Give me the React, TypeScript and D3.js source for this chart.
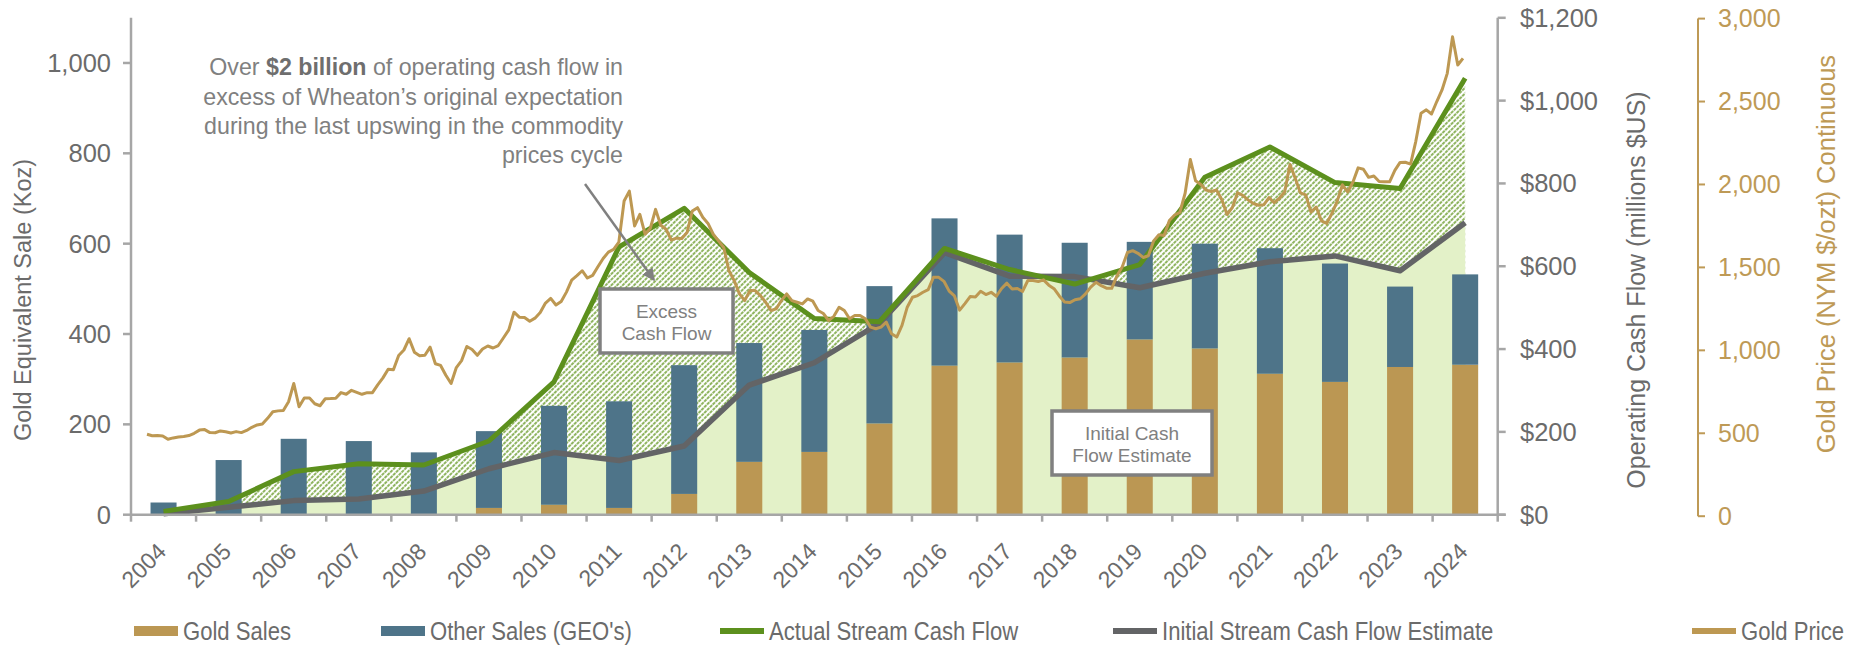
import React from "react";
import * as d3 from "d3";

// categories
const years = [
  "2004", "2005", "2006", "2007", "2008", "2009", "2010", "2011", "2012", "2013", "2014",
  "2015", "2016", "2017", "2018", "2019", "2020", "2021", "2022", "2023", "2024",
];

// Koz, gold equivalent
const goldSales = [0, 0, 0, 0, 0, 15, 22, 15, 46, 117, 139, 202, 330, 337, 348, 388, 368, 312, 294, 327, 332];
const otherSales = [27, 121, 168, 163, 138, 170, 219, 236, 285, 263, 270, 304, 326, 283, 254, 216, 232, 278, 262, 178, 200];

// millions $US
const actualCashFlow = [8, 32, 104, 123, 120, 178, 321, 647, 740, 585, 474, 466, 643, 592, 557, 604, 815, 888, 802, 788, 1054];
const initialEstimate = [2, 18, 34, 38, 57, 111, 150, 131, 166, 313, 367, 462, 633, 576, 575, 548, 583, 611, 625, 589, 705];

// gold price, monthly, Jan 2004 .. Dec 2024
const goldPrice = [
  494, 485, 486, 484, 464, 472, 478, 480, 486, 500, 519, 522,
  504, 503, 514, 509, 502, 510, 504, 517, 536, 550, 556, 590,
  630, 635, 637, 690, 800, 660, 713, 712, 678, 666, 708, 709,
  711, 745, 735, 759, 747, 735, 745, 745, 792, 834, 886, 883,
  969, 1002, 1070, 989, 968, 970, 1019, 919, 909, 850, 800, 896,
  938, 1023, 1005, 970, 1008, 1026, 1014, 1029, 1076, 1123, 1230, 1200,
  1198, 1175, 1194, 1228, 1285, 1313, 1273, 1295, 1351, 1423, 1450, 1480,
  1436, 1452, 1504, 1554, 1592, 1609, 1653, 1900, 1960, 1750, 1820, 1700,
  1736, 1850, 1754, 1730, 1665, 1676, 1674, 1710, 1840, 1860, 1802, 1765,
  1700, 1660, 1620, 1480, 1420, 1340, 1300, 1360, 1360, 1330, 1290, 1240,
  1250, 1300, 1340, 1300, 1290, 1280, 1310, 1296, 1240, 1222, 1180, 1205,
  1260, 1240, 1190, 1210, 1210, 1190, 1140, 1130, 1140, 1170, 1100, 1080,
  1150, 1260, 1320, 1330, 1350, 1366, 1440, 1440, 1416, 1357, 1328, 1242,
  1282, 1324, 1321, 1356, 1336, 1350, 1326, 1373, 1405, 1370, 1373, 1355,
  1421, 1421, 1415, 1425, 1393, 1372, 1328, 1292, 1288, 1305, 1311, 1340,
  1381, 1410, 1390, 1375, 1374, 1449, 1503, 1590, 1601, 1585, 1560, 1570,
  1660, 1697, 1692, 1783, 1816, 1832, 1947, 2150, 2022, 2000, 1966, 1958,
  1967, 1908, 1819, 1860, 1950, 1934, 1907, 1885, 1875, 1877, 1921, 1890,
  1917, 1956, 2120, 2037, 1949, 1937, 1833, 1864, 1781, 1765, 1826, 1898,
  1998, 1955, 2013, 2100, 2092, 2043, 2051, 2018, 2016, 2016, 2085, 2133,
  2134, 2123, 2260, 2430, 2450, 2425, 2500, 2570, 2670, 2890, 2720, 2760,
];

// tick labels
const salesTicks = [0, 200, 400, 600, 800, 1000];
const cashTicks = [0, 200, 400, 600, 800, 1000, 1200];
const priceTicks = [0, 500, 1000, 1500, 2000, 2500, 3000];

const W = 1849;
const H = 646;
const plot = { left: 131, right: 1497.7, top: 17.8, bottom: 514.7 };

const C = {
  gold: "#BB9753",
  blue: "#4E7489",
  green: "#5C901D",
  grey: "#636466",
  fill: "#E3F1C8",
  price: "#BD9852",
  axis: "#A6A6A6",
  text: "#6B6B6B",
  note: "#808080",
  goldText: "#BE9A56",
};

const FONT = "'Liberation Sans', Arial, sans-serif";

export default function App() {
  const x = d3
    .scaleBand<string>()
    .domain(years)
    .range([plot.left, plot.right])
    .paddingInner(0.6)
    .paddingOuter(0.3);
  const bw = x.bandwidth();
  const cx = (i: number) => (x(years[i]) as number) + bw / 2;

  const ySales = d3.scaleLinear().domain([0, 1100]).range([plot.bottom, plot.top]);
  const yCash = d3.scaleLinear().domain([0, 1200]).range([plot.bottom, plot.top]);
  const yPrice = d3.scaleLinear().domain([0, 3000]).range([plot.bottom + 1.5, plot.top + 0.8]);
  const xMonth = d3.scaleLinear().domain([0, goldPrice.length - 1]).range([147, 1463]);

  const area = d3
    .area<number>()
    .x((_, i) => cx(i))
    .y0(yCash(0))
    .y1((d) => yCash(d));
  const line = d3
    .line<number>()
    .x((_, i) => cx(i))
    .y((d) => yCash(d));
  const priceLine = d3
    .line<number>()
    .x((_, i) => xMonth(i))
    .y((d) => yPrice(d));

  const step = x.step();
  const boundaries = d3.range(years.length + 1).map((i) => plot.left + i * step);

  const goldAxisX = 1698;

  const legendY = 631;
  const legend = [
    { label: "Gold Sales", kind: "rect", color: C.gold, x: 134 },
    { label: "Other Sales (GEO's)", kind: "rect", color: C.blue, x: 381 },
    { label: "Actual Stream Cash Flow", kind: "line", color: C.green, x: 720 },
    { label: "Initial Stream Cash Flow Estimate", kind: "line", color: C.grey, x: 1113 },
    { label: "Gold Price", kind: "line", color: C.price, x: 1692 },
  ];

  return (
    <svg
      width={W}
      height={H}
      style={{ position: "absolute", left: 0, top: 0, background: "#fff" }}
      fontFamily={FONT}
    >
      <defs>
        <pattern
          id="hatch"
          width="4"
          height="4"
          patternUnits="userSpaceOnUse"
          patternTransform="rotate(45)"
        >
          <rect width="4" height="4" fill="#fff" />
          <line x1="2" y1="0" x2="2" y2="4" stroke="#6A9C2C" strokeWidth="1.5" strokeDasharray="2.2 0.8" />
        </pattern>
        <marker id="arrow" viewBox="0 0 10 10" refX="9" refY="5" markerWidth="5" markerHeight="5" orient="auto">
          <path d="M0,0 L10,5 L0,10 z" fill={C.note} />
        </marker>
      </defs>

      {/* excess cash flow (hatched) and initial estimate (light green) */}
      <path d={area(actualCashFlow) as string} fill="url(#hatch)" />
      <path d={area(initialEstimate) as string} fill={C.fill} />

      {/* stacked bars */}
      {years.map((yr, i) => (
        <g key={yr}>
          <rect
            x={x(yr)}
            width={bw}
            y={ySales(goldSales[i])}
            height={ySales(0) - ySales(goldSales[i])}
            fill={C.gold}
          />
          <rect
            x={x(yr)}
            width={bw}
            y={ySales(goldSales[i] + otherSales[i])}
            height={ySales(goldSales[i]) - ySales(goldSales[i] + otherSales[i])}
            fill={C.blue}
          />
        </g>
      ))}

      {/* cash flow lines */}
      <path d={line(initialEstimate) as string} fill="none" stroke={C.grey} strokeWidth={5.5} strokeLinejoin="round" />
      <path d={line(actualCashFlow) as string} fill="none" stroke={C.green} strokeWidth={5} strokeLinejoin="round" />

      {/* gold price */}
      <path d={priceLine(goldPrice) as string} fill="none" stroke={C.price} strokeWidth={3} strokeLinejoin="round" />

      {/* left axis */}
      <line x1={plot.left} x2={plot.left} y1={plot.top} y2={plot.bottom} stroke={C.axis} strokeWidth={2.5} />
      {salesTicks.map((t) => (
        <g key={t}>
          <line x1={plot.left - 8} x2={plot.left} y1={ySales(t)} y2={ySales(t)} stroke={C.axis} strokeWidth={2.5} />
          <text x={111} y={ySales(t)} dy="0.35em" textAnchor="end" fontSize={25.5} fill={C.text}>
            {d3.format(",")(t)}
          </text>
        </g>
      ))}
      <text
        transform={`translate(31, 300) rotate(-90)`}
        textAnchor="middle"
        fontSize={23.5}
        fill={C.text}
      >
        Gold Equivalent Sale (Koz)
      </text>

      {/* bottom axis */}
      <line x1={plot.left} x2={plot.right + 8} y1={plot.bottom} y2={plot.bottom} stroke={C.axis} strokeWidth={2.5} />
      {boundaries.map((b, i) => (
        <line key={i} x1={b} x2={b} y1={plot.bottom} y2={plot.bottom + 7} stroke={C.axis} strokeWidth={2.5} />
      ))}
      {years.map((yr, i) => (
        <text
          key={yr}
          transform={`translate(${cx(i) + 4}, 553) rotate(-45)`}
          textAnchor="end"
          fontSize={23}
          fill={C.text}
        >
          {yr}
        </text>
      ))}

      {/* right cash axis */}
      <line x1={plot.right} x2={plot.right} y1={plot.top} y2={plot.bottom} stroke={C.axis} strokeWidth={2.5} />
      {cashTicks.map((t) => (
        <g key={t}>
          <line x1={plot.right} x2={plot.right + 8} y1={yCash(t)} y2={yCash(t)} stroke={C.axis} strokeWidth={2.5} />
          <text x={1520} y={yCash(t)} dy="0.35em" fontSize={25.5} fill={C.text}>
            {"$" + d3.format(",")(t)}
          </text>
        </g>
      ))}
      <text
        transform={`translate(1645, 290) rotate(-90)`}
        textAnchor="middle"
        fontSize={25}
        fill={C.text}
      >
        Operating Cash Flow (millions $US)
      </text>

      {/* gold price axis */}
      <line x1={goldAxisX} x2={goldAxisX} y1={yPrice(3000)} y2={yPrice(0)} stroke={C.goldText} strokeWidth={2} />
      {priceTicks.map((t) => (
        <g key={t}>
          <line x1={goldAxisX} x2={goldAxisX + 7} y1={yPrice(t)} y2={yPrice(t)} stroke={C.goldText} strokeWidth={2} />
          <text x={1718} y={yPrice(t)} dy="0.35em" fontSize={25} fill={C.goldText}>
            {d3.format(",")(t)}
          </text>
        </g>
      ))}
      <text
        transform={`translate(1835, 254) rotate(-90)`}
        textAnchor="middle"
        fontSize={25.5}
        fill={C.goldText}
      >
        Gold Price (NYM $/ozt) Continuous
      </text>

      {/* annotation */}
      <g fontSize={23.2} fill={C.note} textAnchor="end">
        <text x={623} y={75}>
          Over <tspan fontWeight="bold" fill="#6E6E6E">$2 billion</tspan> of operating cash flow in
        </text>
        <text x={623} y={104.5}>excess of Wheaton’s original expectation</text>
        <text x={623} y={134}>during the last upswing in the commodity</text>
        <text x={623} y={163}>prices cycle</text>
      </g>
      <line x1={585} y1={184} x2={654} y2={280} stroke={C.note} strokeWidth={2.5} markerEnd="url(#arrow)" />

      {/* callout boxes */}
      <rect x={600} y={289} width={133} height={64} fill="#fff" stroke={C.note} strokeWidth={3.5} />
      <g fontSize={19} fill={C.note} textAnchor="middle">
        <text x={666.5} y={318}>Excess</text>
        <text x={666.5} y={340}>Cash Flow</text>
      </g>
      <rect x={1052} y={411} width={160} height={64} fill="#fff" stroke={C.note} strokeWidth={3.5} />
      <g fontSize={19} fill={C.note} textAnchor="middle">
        <text x={1132} y={440}>Initial Cash</text>
        <text x={1132} y={462}>Flow Estimate</text>
      </g>

      {/* legend */}
      {legend.map((l) => (
        <g key={l.label}>
          {l.kind === "rect" ? (
            <rect x={l.x} y={legendY - 5} width={44} height={10} fill={l.color} />
          ) : (
            <line x1={l.x} x2={l.x + 44} y1={legendY} y2={legendY} stroke={l.color} strokeWidth={6} />
          )}
          <text
            transform={`translate(${l.x + 49}, ${legendY + 9}) scale(0.85, 1)`}
            fontSize={26}
            fill={C.text}
          >
            {l.label}
          </text>
        </g>
      ))}
    </svg>
  );
}
